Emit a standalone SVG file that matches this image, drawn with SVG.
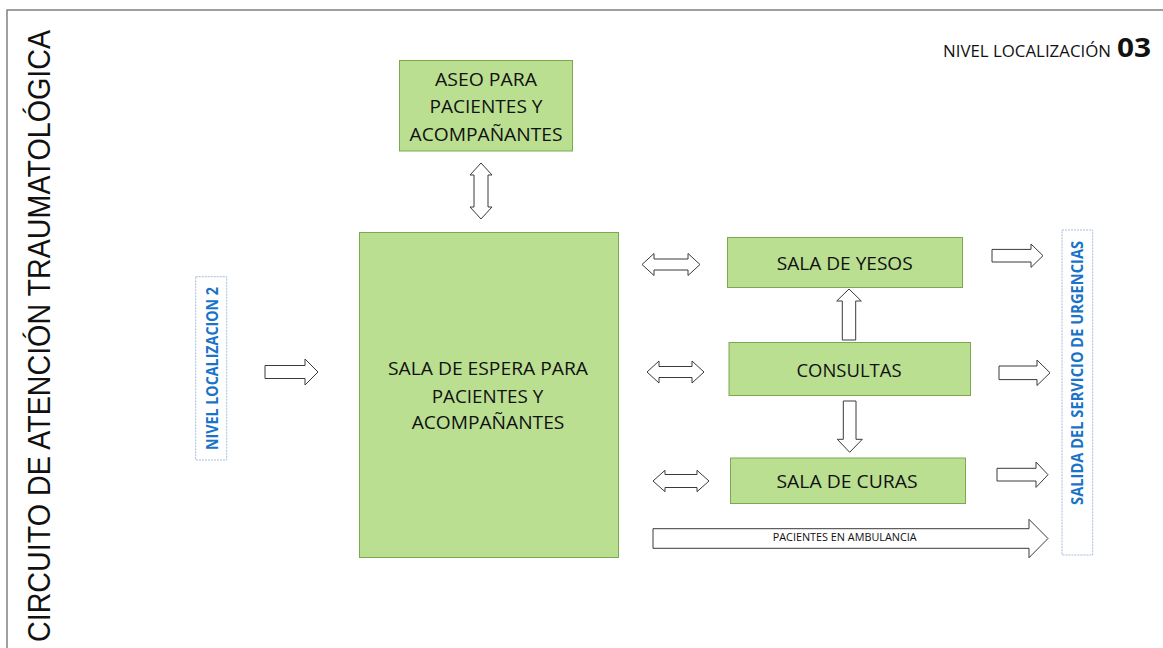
<svg xmlns="http://www.w3.org/2000/svg" width="1163" height="648" viewBox="0 0 1163 648">
<style>
.box{fill:#BADF91;stroke:#7BAA4E;stroke-width:1}
.lbl{font-family:"Open Sans","Noto Sans",sans-serif;font-size:18px;fill:#111;text-anchor:middle}
.arr{fill:#fff;stroke:#3a3a3a;stroke-width:1;stroke-linejoin:miter}
.bbox{fill:#fff;stroke:#A6BCDC;stroke-width:1;stroke-dasharray:2 1}
.blue{font-family:"Open Sans","Noto Sans",sans-serif;font-size:14px;font-weight:bold;fill:#1A73C8;text-anchor:middle}
</style>
<rect x="0" y="0" width="1163" height="648" fill="#fff"/>
<path d="M7,648 L7,10 L1163,10" fill="none" stroke="#808080" stroke-width="1.5"/>
<text transform="translate(50,336) scale(1.12,1) rotate(-90)" font-family="'Liberation Sans',Arial,sans-serif" font-size="28" fill="#111" text-anchor="middle" textLength="612" lengthAdjust="spacingAndGlyphs">CIRCUITO DE ATENCIÓN TRAUMATOLÓGICA</text>
<g id="titulo-nivel">
<text x="943" y="57" font-family="'Open Sans','Noto Sans',sans-serif" font-size="17" fill="#111" textLength="168" lengthAdjust="spacingAndGlyphs">NIVEL LOCALIZACIÓN</text>
<text x="1117" y="56.5" font-family="'Open Sans','Noto Sans',sans-serif" font-size="27" font-weight="bold" fill="#111" textLength="34" lengthAdjust="spacingAndGlyphs">03</text>
</g>
<g id="aseo">
<rect class="box" x="399.5" y="60.5" width="173" height="90.5"/>
<text class="lbl" x="486" y="86" textLength="102" lengthAdjust="spacingAndGlyphs">ASEO PARA</text>
<text class="lbl" x="486" y="113.3" textLength="113" lengthAdjust="spacingAndGlyphs">PACIENTES Y</text>
<text class="lbl" x="486" y="140.7" textLength="153" lengthAdjust="spacingAndGlyphs">ACOMPAÑANTES</text>
</g>
<g id="sala-espera">
<rect class="box" x="359.5" y="232.5" width="259" height="325"/>
<text class="lbl" x="488" y="375" textLength="200" lengthAdjust="spacingAndGlyphs">SALA DE ESPERA PARA</text>
<text class="lbl" x="487.5" y="402.7" textLength="111.6" lengthAdjust="spacingAndGlyphs">PACIENTES Y</text>
<text class="lbl" x="488" y="429.3" textLength="152.6" lengthAdjust="spacingAndGlyphs">ACOMPAÑANTES</text>
</g>
<g id="sala-yesos">
<rect class="box" x="727.5" y="237.5" width="235" height="50"/>
<text class="lbl" x="844.7" y="270" textLength="136" lengthAdjust="spacingAndGlyphs">SALA DE YESOS</text>
</g>
<g id="consultas">
<rect class="box" x="729" y="342.5" width="241.5" height="53"/>
<text class="lbl" x="849" y="376.7" textLength="105" lengthAdjust="spacingAndGlyphs">CONSULTAS</text>
</g>
<g id="sala-curas">
<rect class="box" x="730.5" y="458" width="235" height="45.5"/>
<text class="lbl" x="847" y="488.3" textLength="141" lengthAdjust="spacingAndGlyphs">SALA DE CURAS</text>
</g>
<g id="nivel-2">
<rect class="bbox" x="195.7" y="276.7" width="31" height="183.3"/>
<text class="blue" transform="translate(217.7,368.5) scale(1.1,1) rotate(-90)" textLength="163" lengthAdjust="spacingAndGlyphs">NIVEL LOCALIZACION 2</text>
</g>
<g id="salida">
<rect class="bbox" x="1062" y="230" width="30.7" height="325"/>
<text class="blue" transform="translate(1083.3,372.9) scale(1.1,1) rotate(-90)" textLength="264" lengthAdjust="spacingAndGlyphs">SALIDA DEL SERVICIO DE URGENCIAS</text>
</g>
<g id="connectors">
<path class="arr" d="M481,163 L492,175 L488,175 L488,207 L492,207 L481,219 L470,207 L474,207 L474,175 L470,175 Z"/>
<path class="arr" d="M265,365.5 L305,365.5 L305,359 L318,372 L305,385 L305,378.5 L265,378.5 Z"/>
<path class="arr" d="M642,264.5 L654,253.5 L654,259 L688,259 L688,253.5 L700,264.5 L688,275.5 L688,270 L654,270 L654,275.5 Z"/>
<path class="arr" d="M647,372 L659,361 L659,366.5 L692,366.5 L692,361 L704,372 L692,383 L692,377.5 L659,377.5 L659,383 Z"/>
<path class="arr" d="M653,481 L665,470.3 L665,474.5 L697,474.5 L697,470.3 L709,481 L697,491.7 L697,487.5 L665,487.5 L665,491.7 Z"/>
<path class="arr" d="M849,289 L861.3,301 L855.7,301 L855.7,340 L842.3,340 L842.3,301 L836.7,301 Z"/>
<path class="arr" d="M843.3,401 L856,401 L856,439.3 L862.3,439.3 L849.7,452.3 L837.3,439.3 L843.3,439.3 Z"/>
<path class="arr" d="M992,249.4 L1031,249.4 L1031,244 L1043,255.7 L1031,267.4 L1031,262 L992,262 Z"/>
<path class="arr" d="M999,366 L1037,366 L1037,360 L1050,372.8 L1037,385.5 L1037,379.6 L999,379.6 Z"/>
<path class="arr" d="M997,468.3 L1036,468.3 L1036,462 L1048,474.7 L1036,487.4 L1036,481 L997,481 Z"/>
<path class="arr" d="M653,528.7 L1029,528.7 L1029,519.3 L1048,538.5 L1029,557.7 L1029,548.3 L653,548.3 Z"/>
<text x="844.7" y="541" font-family="'Open Sans','Noto Sans',sans-serif" font-size="10" fill="#111" text-anchor="middle" textLength="144" lengthAdjust="spacingAndGlyphs">PACIENTES EN AMBULANCIA</text>
</g>
</svg>
